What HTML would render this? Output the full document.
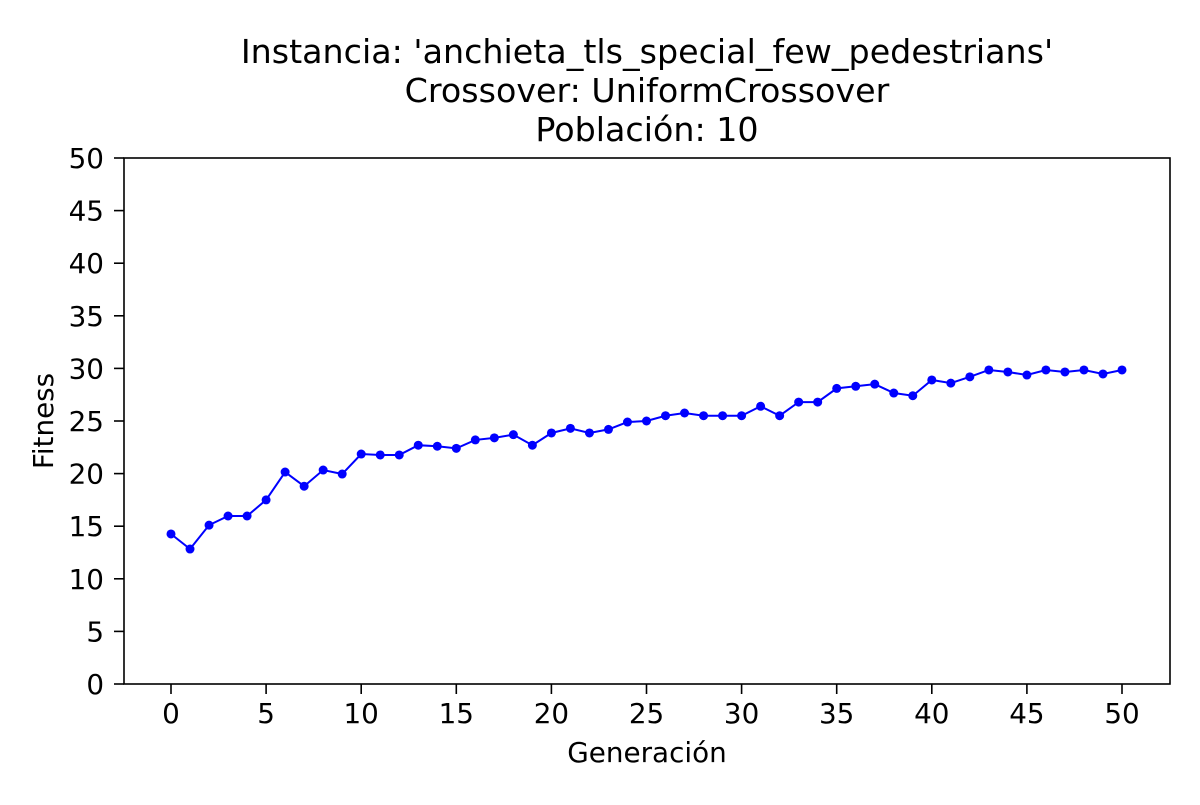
<!DOCTYPE html>
<html><head><meta charset="utf-8"><style>
html,body{margin:0;padding:0;background:#fff;}
svg text{font-family:"DejaVu Sans","Liberation Sans",sans-serif;fill:#000;}
</style></head><body>
<svg id="chart" width="1200" height="800" xmlns="http://www.w3.org/2000/svg">
<rect width="1200" height="800" fill="#fff"/>
<g font-size="33.3" text-anchor="middle">
<text x="647" y="63">Instancia: 'anchieta_tls_special_few_pedestrians'</text>
<text x="647" y="102">Crossover: UniformCrossover</text>
<text x="647" y="141">Población: 10</text>
</g>
<text x="647" y="762" font-size="27.8" text-anchor="middle">Generación</text>
<text x="0" y="0" font-size="27.8" text-anchor="middle" transform="translate(53,421) rotate(-90)">Fitness</text>
<g id="axes"></g>
<g id="series"></g>
<rect x="124" y="158" width="1046" height="526" fill="none" stroke="#000" stroke-width="1.6"/>
</svg>
<script>
const generations=[0,1,2,3,4,5,6,7,8,9,10,11,12,13,14,15,16,17,18,19,20,21,22,23,24,25,26,27,28,29,30,31,32,33,34,35,36,37,38,39,40,41,42,43,44,45,46,47,48,49,50];
const fitness=[14.26,12.83,15.1,15.97,15.97,17.5,20.15,18.8,20.34,19.96,21.86,21.77,21.77,22.7,22.6,22.4,23.2,23.4,23.7,22.7,23.86,24.3,23.86,24.2,24.9,25.0,25.5,25.76,25.5,25.5,25.5,26.4,25.5,26.8,26.8,28.1,28.3,28.5,27.66,27.4,28.9,28.6,29.2,29.85,29.66,29.37,29.85,29.66,29.85,29.47,29.85];
const xTicks=[0,5,10,15,20,25,30,35,40,45,50];
const yTicks=[0,5,10,15,20,25,30,35,40,45,50];
const NS="http://www.w3.org/2000/svg";
function xs(v){return 171+v*(1122-171)/50;}
function ys(v){return 684-v*(684-158)/50;}
function mk(tag,attrs,parent){const e=document.createElementNS(NS,tag);for(const k in attrs)e.setAttribute(k,attrs[k]);parent.appendChild(e);return e;}
const axes=document.getElementById('axes');
xTicks.forEach(t=>{
  const l=mk('line',{x1:xs(t),x2:xs(t),y1:684,y2:694,stroke:'#000','stroke-width':1.6},axes);
  
  
  const tx=mk('text',{x:xs(t),y:723,'font-size':27.8,'text-anchor':'middle'},axes);
  tx.textContent=t;
  
  
});
yTicks.forEach(t=>{
  const l=mk('line',{x1:114,x2:124,y1:ys(t),y2:ys(t),stroke:'#000','stroke-width':1.6},axes);
  
  
  const tx=mk('text',{x:104,y:ys(t)+10,'font-size':27.8,'text-anchor':'end'},axes);
  tx.textContent=t;
  
  
});
const series=document.getElementById('series');
const pts=generations.map((g,i)=>xs(g)+','+ys(fitness[i])).join(' ');
const pl=mk('polyline',{points:pts,fill:'none',stroke:'#0000ff','stroke-width':2},series);


generations.forEach((g,i)=>{
  const c=mk('circle',{cx:xs(g),cy:ys(fitness[i]),r:4.5,fill:'#0000ff'},series);
  
  
});
</script>
</body></html>
